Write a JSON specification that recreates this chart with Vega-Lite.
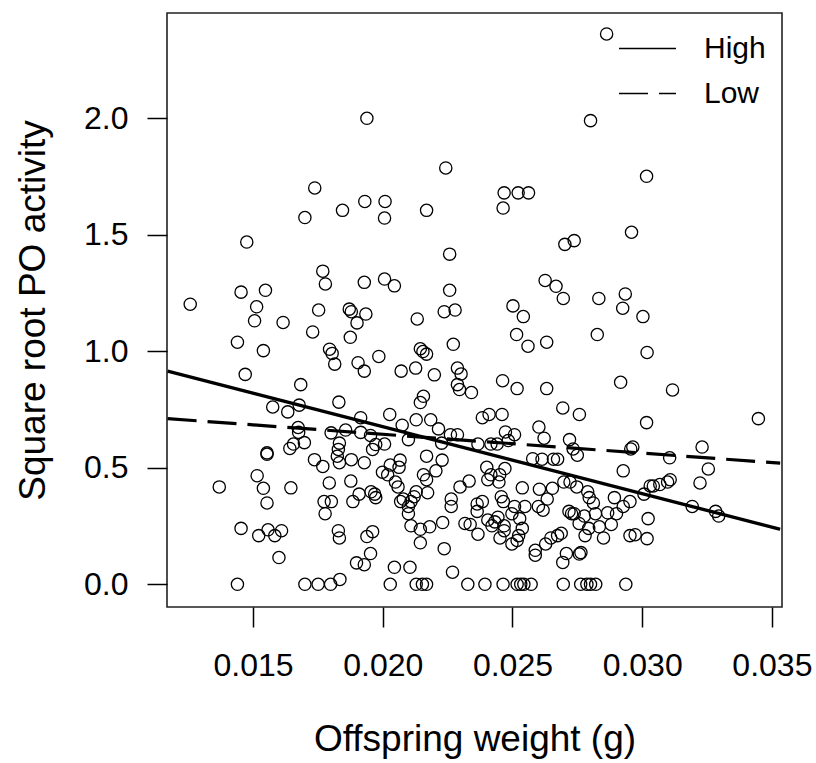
{
  "$schema": "https://vega.github.io/schema/vega-lite/v6.json",
  "width": 615,
  "height": 594,
  "autosize": {"type": "none"},
  "padding": {"left": 167, "top": 13, "right": 34, "bottom": 156},
  "background": "white",
  "config": {
    "font": "Liberation Sans",
    "view": {"stroke": "#222222", "strokeWidth": 1.6}
  },
  "datasets": {
    "pts": [
      {"weight":0.02863,"po":2.362},{"weight":0.01939,"po":2.000},{"weight":0.02801,"po":1.990},{"weight":0.02243,"po":1.787},
      {"weight":0.03017,"po":1.751},{"weight":0.01738,"po":1.701},{"weight":0.02468,"po":1.680},{"weight":0.02522,"po":1.680},
      {"weight":0.02562,"po":1.680},{"weight":0.02464,"po":1.615},{"weight":0.01700,"po":1.574},{"weight":0.01931,"po":1.643},
      {"weight":0.02009,"po":1.643},{"weight":0.02007,"po":1.572},{"weight":0.01845,"po":1.605},{"weight":0.02169,"po":1.605},
      {"weight":0.01476,"po":1.469},{"weight":0.02959,"po":1.511},{"weight":0.02702,"po":1.459},{"weight":0.02738,"po":1.475},
      {"weight":0.02258,"po":1.417},{"weight":0.01769,"po":1.344},{"weight":0.01779,"po":1.289},{"weight":0.01929,"po":1.296},
      {"weight":0.02007,"po":1.310},{"weight":0.02045,"po":1.281},{"weight":0.02626,"po":1.304},{"weight":0.02668,"po":1.279},
      {"weight":0.02696,"po":1.227},{"weight":0.02935,"po":1.246},{"weight":0.02925,"po":1.185},{"weight":0.02833,"po":1.227},
      {"weight":0.01454,"po":1.254},{"weight":0.01548,"po":1.262},{"weight":0.01258,"po":1.202},{"weight":0.02258,"po":1.262},
      {"weight":0.01514,"po":1.191},{"weight":0.01506,"po":1.131},{"weight":0.01753,"po":1.177},{"weight":0.01871,"po":1.181},
      {"weight":0.01879,"po":1.170},{"weight":0.01935,"po":1.160},{"weight":0.02237,"po":1.170},{"weight":0.02279,"po":1.177},
      {"weight":0.02502,"po":1.195},{"weight":0.02542,"po":1.149},{"weight":0.03003,"po":1.149},{"weight":0.01616,"po":1.124},
      {"weight":0.01901,"po":1.122},{"weight":0.02133,"po":1.139},{"weight":0.01730,"po":1.083},{"weight":0.01875,"po":1.060},
      {"weight":0.01440,"po":1.039},{"weight":0.02516,"po":1.072},{"weight":0.02827,"po":1.072},{"weight":0.02632,"po":1.039},
      {"weight":0.02560,"po":1.022},{"weight":0.02272,"po":1.030},{"weight":0.01540,"po":1.003},{"weight":0.01795,"po":1.009},
      {"weight":0.01805,"po":0.991},{"weight":0.01815,"po":0.945},{"weight":0.02145,"po":1.011},{"weight":0.02155,"po":0.999},
      {"weight":0.02169,"po":0.988},{"weight":0.03019,"po":0.995},{"weight":0.01985,"po":0.978},{"weight":0.01905,"po":0.951},
      {"weight":0.01929,"po":0.915},{"weight":0.02071,"po":0.915},{"weight":0.02127,"po":0.928},{"weight":0.02199,"po":0.899},
      {"weight":0.02288,"po":0.928},{"weight":0.02302,"po":0.903},{"weight":0.01470,"po":0.901},{"weight":0.02288,"po":0.857},
      {"weight":0.02296,"po":0.836},{"weight":0.02342,"po":0.823},{"weight":0.02462,"po":0.874},{"weight":0.02518,"po":0.840},
      {"weight":0.02632,"po":0.840},{"weight":0.02917,"po":0.867},{"weight":0.03117,"po":0.834},{"weight":0.01684,"po":0.857},
      {"weight":0.01831,"po":0.782},{"weight":0.02145,"po":0.780},{"weight":0.02157,"po":0.807},{"weight":0.01576,"po":0.761},
      {"weight":0.01634,"po":0.740},{"weight":0.01678,"po":0.769},{"weight":0.02694,"po":0.757},{"weight":0.02758,"po":0.729},
      {"weight":0.03448,"po":0.711},{"weight":0.03017,"po":0.694},{"weight":0.02027,"po":0.729},{"weight":0.02129,"po":0.706},
      {"weight":0.02185,"po":0.706},{"weight":0.02384,"po":0.715},{"weight":0.02410,"po":0.729},{"weight":0.02460,"po":0.729},
      {"weight":0.01915,"po":0.715},{"weight":0.01674,"po":0.673},{"weight":0.01676,"po":0.652},{"weight":0.01698,"po":0.608},
      {"weight":0.01656,"po":0.602},{"weight":0.01642,"po":0.583},{"weight":0.01833,"po":0.606},{"weight":0.01801,"po":0.650},
      {"weight":0.01857,"po":0.662},{"weight":0.01915,"po":0.652},{"weight":0.01953,"po":0.639},{"weight":0.01973,"po":0.600},
      {"weight":0.02007,"po":0.602},{"weight":0.02075,"po":0.683},{"weight":0.02099,"po":0.621},{"weight":0.02215,"po":0.667},
      {"weight":0.02227,"po":0.606},{"weight":0.02261,"po":0.642},{"weight":0.02288,"po":0.642},{"weight":0.02367,"po":0.602},
      {"weight":0.02417,"po":0.602},{"weight":0.02441,"po":0.602},{"weight":0.02473,"po":0.654},{"weight":0.02484,"po":0.617},
      {"weight":0.02508,"po":0.642},{"weight":0.02602,"po":0.675},{"weight":0.02622,"po":0.627},{"weight":0.02578,"po":0.539},
      {"weight":0.02614,"po":0.537},{"weight":0.02658,"po":0.537},{"weight":0.02674,"po":0.537},{"weight":0.02720,"po":0.621},
      {"weight":0.02734,"po":0.581},{"weight":0.02750,"po":0.554},{"weight":0.02956,"po":0.581},{"weight":0.02964,"po":0.589},
      {"weight":0.03106,"po":0.543},{"weight":0.03231,"po":0.589},{"weight":0.03255,"po":0.495},{"weight":0.03223,"po":0.435},
      {"weight":0.03193,"po":0.334},{"weight":0.03283,"po":0.313},{"weight":0.03295,"po":0.293},{"weight":0.03108,"po":0.449},
      {"weight":0.03098,"po":0.439},{"weight":0.03068,"po":0.428},{"weight":0.03031,"po":0.422},{"weight":0.03043,"po":0.422},
      {"weight":0.03007,"po":0.387},{"weight":0.03023,"po":0.282},{"weight":0.03019,"po":0.196},{"weight":0.02973,"po":0.213},
      {"weight":0.02953,"po":0.209},{"weight":0.02927,"po":0.487},{"weight":0.02953,"po":0.355},{"weight":0.02927,"po":0.334},
      {"weight":0.02893,"po":0.372},{"weight":0.02901,"po":0.303},{"weight":0.02867,"po":0.307},{"weight":0.02851,"po":0.199},
      {"weight":0.02835,"po":0.247},{"weight":0.02881,"po":0.257},{"weight":0.02812,"po":0.349},{"weight":0.02820,"po":0.303},
      {"weight":0.02790,"po":0.397},{"weight":0.02796,"po":0.372},{"weight":0.02794,"po":0.240},{"weight":0.02780,"po":0.209},
      {"weight":0.02764,"po":0.136},{"weight":0.02758,"po":0.130},{"weight":0.02718,"po":0.313},{"weight":0.02728,"po":0.303},
      {"weight":0.02738,"po":0.303},{"weight":0.02688,"po":0.219},{"weight":0.02708,"po":0.132},{"weight":0.02694,"po":0.094},
      {"weight":0.02674,"po":0.209},{"weight":0.02698,"po":0.439},{"weight":0.02722,"po":0.439},{"weight":0.02748,"po":0.418},
      {"weight":0.02654,"po":0.412},{"weight":0.02634,"po":0.366},{"weight":0.02604,"po":0.408},{"weight":0.02618,"po":0.318},
      {"weight":0.02600,"po":0.334},{"weight":0.02648,"po":0.199},{"weight":0.02628,"po":0.173},{"weight":0.02588,"po":0.146},
      {"weight":0.02588,"po":0.125},{"weight":0.02538,"po":0.414},{"weight":0.02548,"po":0.334},{"weight":0.02528,"po":0.282},
      {"weight":0.02538,"po":0.240},{"weight":0.02524,"po":0.209},{"weight":0.02518,"po":0.188},{"weight":0.02508,"po":0.334},
      {"weight":0.02498,"po":0.303},{"weight":0.02471,"po":0.497},{"weight":0.02451,"po":0.470},{"weight":0.02457,"po":0.376},
      {"weight":0.02465,"po":0.355},{"weight":0.02468,"po":0.251},{"weight":0.02444,"po":0.288},{"weight":0.02432,"po":0.268},
      {"weight":0.02448,"po":0.439},{"weight":0.02468,"po":0.230},{"weight":0.02452,"po":0.199},{"weight":0.02498,"po":0.173},
      {"weight":0.02401,"po":0.502},{"weight":0.02417,"po":0.470},{"weight":0.02405,"po":0.449},{"weight":0.02384,"po":0.355},
      {"weight":0.02364,"po":0.345},{"weight":0.02421,"po":0.251},{"weight":0.02405,"po":0.276},{"weight":0.02367,"po":0.215},
      {"weight":0.02337,"po":0.257},{"weight":0.02317,"po":0.261},{"weight":0.02333,"po":0.443},{"weight":0.02298,"po":0.418},
      {"weight":0.02364,"po":0.313},{"weight":0.02264,"po":0.366},{"weight":0.02264,"po":0.334},{"weight":0.02231,"po":0.265},
      {"weight":0.02237,"po":0.153},{"weight":0.02269,"po":0.052},{"weight":0.02205,"po":0.487},{"weight":0.02229,"po":0.533},
      {"weight":0.02169,"po":0.550},{"weight":0.02169,"po":0.449},{"weight":0.02157,"po":0.470},{"weight":0.02173,"po":0.393},
      {"weight":0.02129,"po":0.397},{"weight":0.02121,"po":0.376},{"weight":0.02109,"po":0.355},{"weight":0.02099,"po":0.334},
      {"weight":0.02099,"po":0.303},{"weight":0.02109,"po":0.251},{"weight":0.02145,"po":0.236},{"weight":0.02181,"po":0.247},
      {"weight":0.02145,"po":0.178},{"weight":0.02069,"po":0.355},{"weight":0.02079,"po":0.366},{"weight":0.02049,"po":0.439},
      {"weight":0.02059,"po":0.418},{"weight":0.02067,"po":0.533},{"weight":0.02063,"po":0.502},{"weight":0.02029,"po":0.512},
      {"weight":0.02019,"po":0.470},{"weight":0.01999,"po":0.481},{"weight":0.01969,"po":0.387},{"weight":0.01973,"po":0.372},
      {"weight":0.01955,"po":0.397},{"weight":0.01961,"po":0.226},{"weight":0.01939,"po":0.205},{"weight":0.01953,"po":0.132},
      {"weight":0.01899,"po":0.092},{"weight":0.01929,"po":0.084},{"weight":0.02045,"po":0.073},{"weight":0.02105,"po":0.073},
      {"weight":0.01961,"po":0.579},{"weight":0.01929,"po":0.522},{"weight":0.01879,"po":0.535},{"weight":0.01909,"po":0.387},
      {"weight":0.01885,"po":0.355},{"weight":0.01877,"po":0.443},{"weight":0.01829,"po":0.579},{"weight":0.01825,"po":0.550},
      {"weight":0.01833,"po":0.522},{"weight":0.01794,"po":0.435},{"weight":0.01774,"po":0.355},{"weight":0.01802,"po":0.355},
      {"weight":0.01778,"po":0.303},{"weight":0.01829,"po":0.230},{"weight":0.01833,"po":0.199},{"weight":0.01769,"po":0.506},
      {"weight":0.01737,"po":0.535},{"weight":0.01554,"po":0.564},{"weight":0.01554,"po":0.558},{"weight":0.01516,"po":0.466},
      {"weight":0.01540,"po":0.412},{"weight":0.01554,"po":0.349},{"weight":0.01558,"po":0.234},{"weight":0.01584,"po":0.209},
      {"weight":0.01610,"po":0.230},{"weight":0.01522,"po":0.209},{"weight":0.01600,"po":0.115},{"weight":0.01646,"po":0.414},
      {"weight":0.01454,"po":0.240},{"weight":0.01370,"po":0.418},{"weight":0.02757,"po":0.261},{"weight":0.02777,"po":0.293},
      {"weight":0.01440,"po":0.0},{"weight":0.01700,"po":0.0},{"weight":0.01751,"po":0.0},{"weight":0.01799,"po":0.0},
      {"weight":0.01835,"po":0.021},{"weight":0.02029,"po":0.0},{"weight":0.02129,"po":0.0},{"weight":0.02153,"po":0.0},
      {"weight":0.02169,"po":0.0},{"weight":0.02328,"po":0.0},{"weight":0.02394,"po":0.0},{"weight":0.02464,"po":0.0},
      {"weight":0.02518,"po":0.0},{"weight":0.02532,"po":0.0},{"weight":0.02544,"po":0.0},{"weight":0.02572,"po":0.0},
      {"weight":0.02696,"po":0.0},{"weight":0.02763,"po":0.0},{"weight":0.02787,"po":0.0},{"weight":0.02801,"po":0.0},
      {"weight":0.02821,"po":0.0},{"weight":0.02937,"po":0.0}
    ],
    "fits": [
      {"group":"High","weight":0.01171,"po":0.915},
      {"group":"High","weight":0.03532,"po":0.236},
      {"group":"Low","weight":0.01171,"po":0.711},
      {"group":"Low","weight":0.03532,"po":0.520}
    ]
  },
  "layer": [
    {
      "data": {"name": "pts"},
      "mark": {"type": "point", "shape": "circle", "filled": false, "size": 150, "stroke": "black", "strokeWidth": 1.3, "opacity": 1},
      "encoding": {
        "x": {
          "field": "weight", "type": "quantitative",
          "scale": {"domain": [0.011685, 0.03539], "nice": false, "zero": false},
          "axis": {
            "values": [0.015, 0.02, 0.025, 0.03, 0.035], "format": ".3f",
            "grid": false, "domain": false,
            "tickSize": 20, "tickWidth": 1.5, "tickColor": "black",
            "labelFontSize": 32, "labelColor": "black", "labelPadding": 23, "labelFlush": false, "labelOverlap": false,
            "title": "Offspring weight (g)", "titleFontSize": 37, "titleFontWeight": "normal", "titleColor": "black", "titlePadding": 40
          }
        },
        "y": {
          "field": "po", "type": "quantitative",
          "scale": {"domain": [-0.0974, 2.452], "nice": false, "zero": false},
          "axis": {
            "values": [0, 0.5, 1, 1.5, 2], "format": ".1f",
            "grid": false, "domain": false,
            "tickSize": 20, "tickWidth": 1.5, "tickColor": "black",
            "labelFontSize": 32, "labelColor": "black", "labelPadding": 19, "labelFlush": false, "labelOverlap": false,
            "title": "Square root PO activity", "titleFontSize": 37, "titleFontWeight": "normal", "titleColor": "black", "titlePadding": 31
          }
        }
      }
    },
    {
      "data": {"name": "fits"},
      "mark": {"type": "line", "stroke": "black", "strokeWidth": 3.2},
      "encoding": {
        "x": {"field": "weight", "type": "quantitative"},
        "y": {"field": "po", "type": "quantitative"},
        "detail": {"field": "group"},
        "strokeDash": {
          "field": "group", "type": "nominal",
          "scale": {"domain": ["High", "Low"], "range": [[1, 0], [29, 11]]},
          "legend": {
            "title": null, "orient": "none", "legendX": 451, "legendY": 6,
            "symbolType": "stroke", "symbolSize": 3249, "symbolStrokeWidth": 1.5, "symbolStrokeColor": "black",
            "labelFontSize": 30, "labelColor": "black", "labelOffset": 27, "padding": 0, "rowPadding": -14,
            "encode": {"symbols": {"update": {"strokeDash": {"signal": "datum.value === 'Low' ? [14, 6] : [1, 0]"}}}}
          }
        }
      }
    }
  ]
}
